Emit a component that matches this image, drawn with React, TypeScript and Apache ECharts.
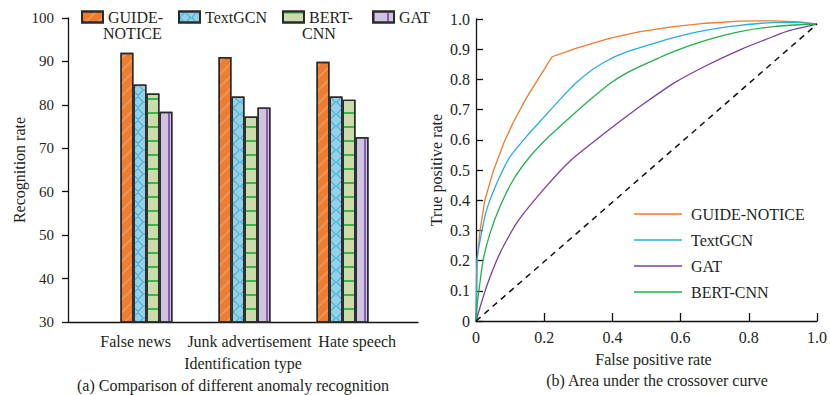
import React, { useEffect, useRef } from "react";
import * as echarts from "echarts";

const categories = ["False news", "Junk advertisement", "Hate speech"];
const guideNotice = [92.0, 91.0, 89.9];
const textGCN = [84.7, 81.9, 81.9];
const bertCNN = [82.6, 77.3, 81.2];
const gat = [78.4, 79.4, 72.6];

const rocGuide = [
  [0, 0], [0.002, 0.1], [0.003, 0.2], [0.012, 0.3], [0.026, 0.4], [0.05, 0.494], [0.08, 0.585],
  [0.108, 0.655], [0.147, 0.737], [0.196, 0.826], [0.223, 0.875], [0.293, 0.903], [0.391, 0.936],
  [0.481, 0.958], [0.579, 0.975], [0.676, 0.986], [0.774, 0.993], [0.872, 0.994], [0.95, 0.99], [1, 0.983],
];
const rocTextGCN = [
  [0, 0], [0.001, 0.1], [0.003, 0.2], [0.012, 0.268], [0.031, 0.367], [0.061, 0.456], [0.1, 0.544],
  [0.149, 0.612], [0.2, 0.676], [0.25, 0.738], [0.293, 0.788], [0.342, 0.833], [0.391, 0.866],
  [0.44, 0.89], [0.481, 0.905], [0.579, 0.938], [0.676, 0.963], [0.774, 0.979], [0.872, 0.988],
  [0.95, 0.988], [1, 0.983],
];
const rocGAT = [
  [0, 0], [0.031, 0.114], [0.07, 0.224], [0.119, 0.324], [0.197, 0.434], [0.276, 0.53], [0.373, 0.618],
  [0.44, 0.676], [0.499, 0.725], [0.579, 0.787], [0.676, 0.846], [0.774, 0.898], [0.872, 0.942],
  [0.92, 0.962], [1, 0.983],
];
const rocBertCNN = [
  [0, 0], [0.003, 0.05], [0.01, 0.114], [0.021, 0.202], [0.041, 0.29], [0.07, 0.378], [0.109, 0.467],
  [0.158, 0.544], [0.217, 0.614], [0.285, 0.684], [0.342, 0.74], [0.391, 0.785], [0.44, 0.82],
  [0.499, 0.852], [0.579, 0.892], [0.676, 0.93], [0.774, 0.958], [0.872, 0.975], [0.95, 0.981], [1, 0.983],
];
const rocDiagonal = [[0, 0], [1, 0.983]];

// where the category names sit along the (value-typed) bar axis
const categoryLabelPositions = [-0.11, 1.05, 2.15];

const FONT = "Liberation Serif";
const TXT = "#231F20";

export default function App() {
  const ref = useRef<HTMLDivElement>(null);
  useEffect(() => {
    document.body.style.margin = "0";
    const chart = echarts.init(ref.current!, null, { renderer: "svg" });
    const border = { borderColor: "#2a2a2a", borderWidth: 1.4 };
    const barSeries = (name: string, vals: number[], color: string, decal: any) => ({
      type: "bar",
      name,
      xAxisIndex: 0,
      yAxisIndex: 0,
      barWidth: 13,
      barGap: "0%",
      data: vals.map((v, i) => [i, v]),
      itemStyle: { color, ...border, decal },
    });
    const lineSeries = (name: string, data: number[][], color: string, smooth: any) => ({
      type: "line",
      name,
      xAxisIndex: 1,
      yAxisIndex: 1,
      data,
      smooth,
      symbol: "none",
      showSymbol: false,
      lineStyle: { color, width: 1.3 },
      itemStyle: { color },
    });
    const axisLine = { show: true, onZero: false, lineStyle: { color: "#111", width: 1.3 } };
    const nameStyle = { fontFamily: FONT, fontSize: 16, color: TXT };
    const barLegend = (name: string, left: number) => ({
      data: [name],
      left,
      top: 4,
      icon: "rect",
      itemWidth: 21,
      itemHeight: 11,
      selectedMode: false,
      formatter: (n: string) => (n === "GUIDE-NOTICE" ? "GUIDE-" : n === "BERT-CNN" ? "BERT-" : n),
      textStyle: { fontFamily: FONT, fontSize: 16, color: TXT, lineHeight: 14 },
    });
    const title = (t: string, left: number, top: number, size: number, align: string) => ({
      text: t,
      left,
      top,
      padding: 0,
      textAlign: align,
      textStyle: { fontFamily: FONT, fontSize: size, fontWeight: "normal", color: TXT, lineHeight: 16 },
    });
    chart.setOption({
      animation: false,
      backgroundColor: "#fff",
      textStyle: { fontFamily: FONT },
      grid: [
        { left: 68, top: 18, width: 350, height: 304 },
        { left: 476, top: 19, width: 341, height: 302 },
      ],
      title: [
        title("NOTICE", 103, 25, 16, "left"),
        title("CNN", 302, 25, 16, "left"),
        title("(a) Comparison of different anomaly recognition", 233, 377, 16, "center"),
        title("(b) Area under the crossover curve", 657, 372, 16, "center"),
      ],
      xAxis: [
        {
          type: "value",
          gridIndex: 0,
          min: -0.8,
          max: 2.77,
          splitLine: { show: false },
          axisTick: { show: false },
          axisLine,
          name: "Identification type",
          nameLocation: "middle",
          nameGap: 33,
          nameTextStyle: nameStyle,
          axisLabel: {
            customValues: categoryLabelPositions,
            formatter: (v: number) => categories[Math.abs(Math.round(v))] ?? "",
            hideOverlap: false,
            fontFamily: FONT,
            fontSize: 16,
            color: TXT,
            margin: 11,
          },
        },
        {
          type: "value",
          gridIndex: 1,
          min: 0,
          max: 1,
          interval: 0.2,
          splitLine: { show: false },
          axisTick: { inside: true, length: 8, lineStyle: { color: "#111", width: 1.3 } },
          axisLine,
          name: "False positive rate",
          nameLocation: "middle",
          nameGap: 30,
          nameTextStyle: { ...nameStyle, padding: [0, 0, 0, 14] },
          axisLabel: {
            formatter: (v: number) => (v === 0 ? "0" : v.toFixed(1)),
            fontFamily: FONT,
            fontSize: 16,
            color: TXT,
            margin: 8,
          },
        },
      ],
      yAxis: [
        {
          type: "value",
          gridIndex: 0,
          min: 30,
          max: 100,
          interval: 10,
          splitLine: { show: false },
          axisTick: { show: true, length: 6, lineStyle: { color: "#111", width: 1.3 } },
          axisLine,
          name: "Recognition rate",
          nameLocation: "middle",
          nameRotate: 90,
          nameGap: 41,
          nameTextStyle: nameStyle,
          axisLabel: { fontFamily: FONT, fontSize: 15, color: TXT, margin: 14 },
        },
        {
          type: "value",
          gridIndex: 1,
          min: 0,
          max: 1,
          interval: 0.1,
          splitLine: { show: false },
          axisTick: { inside: true, length: 7, lineStyle: { color: "#111", width: 1.3 } },
          axisLine,
          name: "True positive rate",
          nameLocation: "middle",
          nameRotate: 90,
          nameGap: 32,
          nameTextStyle: nameStyle,
          axisLabel: {
            formatter: (v: number) => (v === 0 ? "0" : v.toFixed(1)),
            fontFamily: FONT,
            fontSize: 16,
            color: TXT,
            margin: 6,
          },
        },
      ],
      legend: [
        barLegend("GUIDE-NOTICE", 76),
        barLegend("TextGCN", 173),
        barLegend("BERT-CNN", 277),
        barLegend("GAT", 367),
        {
          data: ["ROC GUIDE-NOTICE", "ROC TextGCN", "ROC GAT", "ROC BERT-CNN"],
          orient: "vertical",
          left: 629,
          top: 201,
          icon: "rect",
          itemWidth: 48,
          itemHeight: 1.6,
          itemGap: 10,
          selectedMode: false,
          formatter: (n: string) => n.replace("ROC ", ""),
          textStyle: { fontFamily: FONT, fontSize: 16, color: TXT, lineHeight: 16, padding: [0, 0, 0, 4] },
        },
      ],
      series: [
        barSeries("GUIDE-NOTICE", guideNotice, "#ED7D31", {
          symbol: "rect",
          color: "rgba(255,255,255,0.18)",
          dashArrayX: [1, 0],
          dashArrayY: [2, 7],
          rotation: -Math.PI / 4,
        }),
        barSeries("TextGCN", textGCN, "#93D2E6", {
          symbol: "path://M6 0L12 6L6 12L0 6Z M6 1.3L1.3 6L6 10.7L10.7 6Z",
          symbolSize: 1,
          color: "#3BA8DC",
          dashArrayX: [12, 0],
          dashArrayY: [12, 0],
          rotation: 0,
        }),
        barSeries("BERT-CNN", bertCNN, "#CADCA9", {
          symbol: "rect",
          color: "#3DB54A",
          dashArrayX: [1, 0],
          dashArrayY: [1.6, 11.4],
          rotation: 0,
        }),
        barSeries("GAT", gat, "#CEC4DF", {
          symbol: "rect",
          color: "#8A5BB5",
          dashArrayX: [1.6, 11.4],
          dashArrayY: [1, 0],
          rotation: 0,
        }),
        lineSeries("ROC GUIDE-NOTICE", rocGuide, "#EE7A30", false),
        lineSeries("ROC TextGCN", rocTextGCN, "#29ACE3", 0.2),
        lineSeries("ROC GAT", rocGAT, "#7A3FA1", 0.2),
        lineSeries("ROC BERT-CNN", rocBertCNN, "#21B04B", 0.2),
        {
          type: "line",
          name: "diagonal",
          xAxisIndex: 1,
          yAxisIndex: 1,
          data: rocDiagonal,
          symbol: "none",
          lineStyle: { color: "#111", width: 1.5, type: [6, 5] },
        },
      ],
    });
    return () => chart.dispose();
  }, []);
  return <div ref={ref} style={{ width: 830, height: 395 }} />;
}
